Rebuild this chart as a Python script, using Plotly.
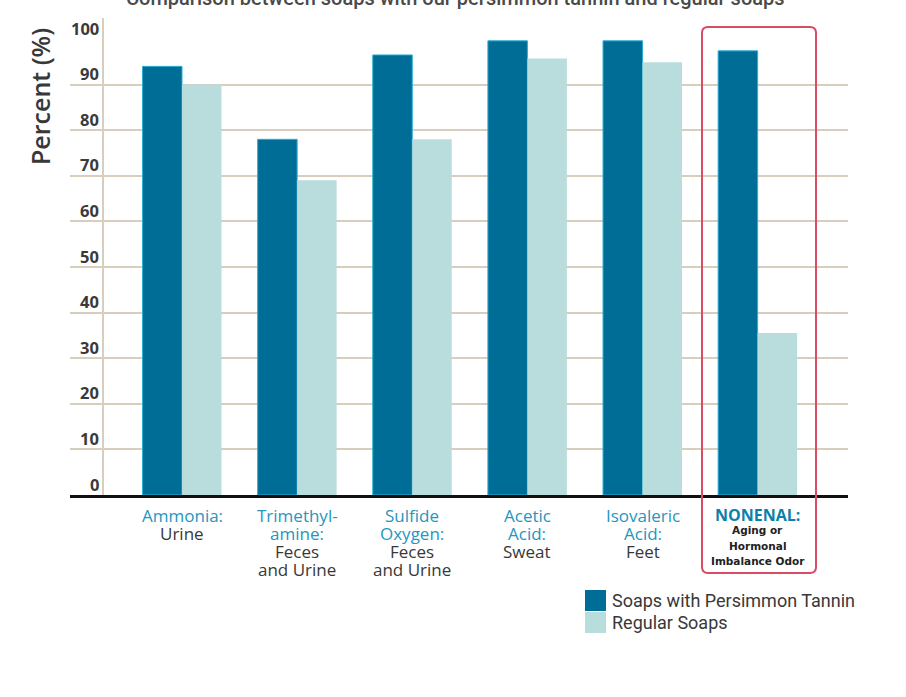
import plotly.graph_objects as go

# ---------------- data ----------------
categories = ["Ammonia", "Trimethylamine", "Sulfide Oxygen", "Acetic Acid", "Isovaleric Acid", "Nonenal"]
tannin = [94, 78, 96.5, 99.6, 99.6, 97.4]
regular = [90, 69, 78, 95.7, 94.9, 35.5]
series_names = ["Soaps with Persimmon Tannin", "Regular Soaps"]
name_lines = [["Ammonia:"], ["Trimethyl-", "amine:"], ["Sulfide", "Oxygen:"],
              ["Acetic", "Acid:"], ["Isovaleric", "Acid:"], ["NONENAL:"]]
source_lines = [["Urine"], ["Feces", "and Urine"], ["Feces", "and Urine"],
                ["Sweat"], ["Feet"], ["Aging or", "Hormonal", "Imbalance Odor"]]
y_ticks = [0, 10, 20, 30, 40, 50, 60, 70, 80, 90, 100]
title_text = "Comparison between soaps with our persimmon tannin and regular soaps"
y_title = "Percent (%)"
highlight = "Nonenal"

# ---------------- styling / layout ----------------
W, H = 906, 697
L, R, T, B = 70, 848, 39, 495   # plot area in window pixels
DARK = "#006d97"
LIGHT = "#b9dcdc"
TEAL = "#2596be"
TEXT = "#383838"
GRID = "#d8cebe"
RED = "#d94c64"
FONT = "Open Sans"


def px(x):
    return (x - L) / (R - L)


def py(y):
    return (B - y) / (B - T)


fig = go.Figure()
fig.add_trace(go.Bar(x=categories, y=tannin, name=series_names[0],
                     marker=dict(color=DARK, line=dict(color="#2aaed3", width=1)),
                     showlegend=False))
fig.add_trace(go.Bar(x=categories, y=regular, name=series_names[1],
                     marker=dict(color=LIGHT, line=dict(width=0)),
                     showlegend=False))

annotations = []
shapes = []

# y tick labels sitting above the grid lines
for v in y_ticks:
    annotations.append(dict(xref="paper", yref="y", x=px(101), y=v, xanchor="right",
                            yanchor="middle", yshift=11, showarrow=False, text=str(v),
                            font=dict(family=FONT, size=16.5, color="#3a3a3a", weight="bold")))

# category labels (line by line)
for cat, nl, sl in zip(categories, name_lines, source_lines):
    small = cat == highlight
    for i, line in enumerate(nl):
        annotations.append(dict(xref="x", yref="y", x=cat, y=0, yanchor="middle",
                                yshift=-(20 + 18.2 * i), showarrow=False, text=line,
                                font=dict(family=FONT, size=16 if small else 17,
                                          color="#0b80a8" if small else TEAL,
                                          weight="bold" if small else "normal")))
    if small:
        for j, line in enumerate(sl):
            annotations.append(dict(xref="x", yref="y", x=cat, y=0, yanchor="middle",
                                    yshift=-(35 + 15.5 * j), showarrow=False, text=line,
                                    font=dict(family="DejaVu Sans", size=10.5, color="#222222",
                                              weight="bold")))
    else:
        for j, line in enumerate(sl):
            annotations.append(dict(xref="x", yref="y", x=cat, y=0, yanchor="middle",
                                    yshift=-(20 + 18.2 * (len(nl) + j)), showarrow=False,
                                    text=line, font=dict(family=FONT, size=17, color=TEXT)))

# title (cut off at the top edge)
annotations.append(dict(xref="paper", yref="paper", x=px(455), y=py(0), xanchor="center",
                        yanchor="middle", yshift=2, showarrow=False, text=title_text,
                        font=dict(family="Roboto", size=20, color="#4a4a4a", weight=500)))

# y axis title
annotations.append(dict(xref="paper", yref="paper", x=px(40), y=py(97), xanchor="center",
                        yanchor="middle", showarrow=False, text=y_title, textangle=-90,
                        font=dict(family=FONT, size=25, color=TEXT, weight=600)))

# vertical axis line (beige)
shapes.append(dict(type="line", xref="paper", yref="paper", x0=px(103), x1=px(103),
                   y0=py(495), y1=py(18), line=dict(color=GRID, width=2), layer="below"))

# highlight box around Nonenal (rounded)
x0, x1, y0, y1, r = 702, 816, 27, 573, 6
path = (f"M {px(x0 + r)},{py(y0)} L {px(x1 - r)},{py(y0)} Q {px(x1)},{py(y0)} {px(x1)},{py(y0 + r)} "
        f"L {px(x1)},{py(y1 - r)} Q {px(x1)},{py(y1)} {px(x1 - r)},{py(y1)} "
        f"L {px(x0 + r)},{py(y1)} Q {px(x0)},{py(y1)} {px(x0)},{py(y1 - r)} "
        f"L {px(x0)},{py(y0 + r)} Q {px(x0)},{py(y0)} {px(x0 + r)},{py(y0)} Z")
shapes.append(dict(type="path", xref="paper", yref="paper", path=path,
                   line=dict(color=RED, width=2)))

# custom legend
for k, (nm, col) in enumerate(zip(series_names, [DARK, LIGHT])):
    top = 590 + 22 * k
    shapes.append(dict(type="rect", xref="paper", yref="paper", x0=px(585), x1=px(606),
                       y0=py(top), y1=py(top + 21), fillcolor=col, line=dict(width=0)))
    annotations.append(dict(xref="paper", yref="paper", x=px(610), y=py(top + 10.5),
                            xanchor="left", yanchor="middle", showarrow=False, text=nm,
                            font=dict(family="Roboto", size=18, color=TEXT)))

fig.update_layout(
    width=W, height=H,
    margin=dict(l=L, r=W - R, t=T, b=H - B, pad=0),
    paper_bgcolor="white", plot_bgcolor="white",
    barmode="group", bargap=0.314, bargroupgap=0,
    showlegend=False,
    annotations=annotations, shapes=shapes,
    xaxis=dict(type="category", range=[-0.973, 5.785], showticklabels=False,
               showgrid=False, showline=True, linecolor="#111111", linewidth=3,
               ticks="", fixedrange=True),
    yaxis=dict(range=[0, 100], tickvals=y_ticks, showticklabels=False, showgrid=True,
               gridcolor=GRID, gridwidth=2, zeroline=False, showline=False, ticks=""),
    font=dict(family=FONT),
)

# remove the page's default body margin so the figure fills the window exactly
fig.write_html("out.html", config={"displayModeBar": False},
               post_script="document.body.style.margin='0';document.body.style.overflow='hidden';")
